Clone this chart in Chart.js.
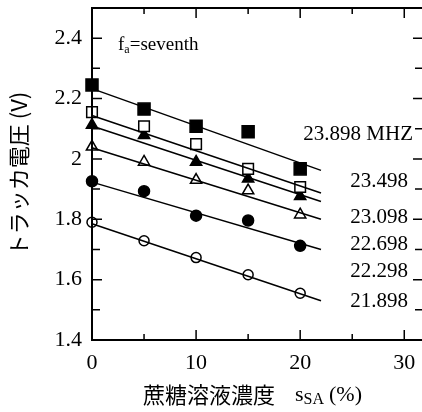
<!DOCTYPE html>
<html lang="ja">
<head>
<meta charset="UTF-8">
<title>トラッカ電圧</title>
<script src="https://cdn.jsdelivr.net/npm/chart.js"></script>
<style>
  html, body { margin: 0; padding: 0; overflow: hidden; background: #fff; }
</style>
</head>
<body>
<canvas id="myChart" width="424" height="412"></canvas>
<script>
// sucrose concentration (%)
const concentration = [0, 5, 10, 15, 20];

// measured tracker voltage (V) per frequency
const v23898 = [2.245, 2.165, 2.108, 2.09, 1.967];
const v23498 = [2.155, 2.108, 2.049, 1.967, 1.907];
const v23098 = [2.112, 2.078, 1.99, 1.934, 1.876];
const v22698 = [2.04, 1.99, 1.93, 1.895, 1.815];
const v22298 = [1.926, 1.893, 1.812, 1.796, 1.712];
const v21898 = [1.79, 1.729, 1.673, 1.616, 1.555];

// fitted lines, read at x = 0 and x = 22
const fitX = [0, 22];
const fit23898 = [2.233, 1.962];
const fit23498 = [2.144, 1.887];
const fit23098 = [2.109, 1.859];
const fit22698 = [2.037, 1.80];
const fit22298 = [1.923, 1.70];
const fit21898 = [1.785, 1.53];

const freqLabels = ['23.898 MHZ', '23.498', '23.098', '22.698', '22.298', '21.898'];
const freqLabelY = [2.08, 1.926, 1.805, 1.716, 1.628, 1.528];

const xTicks = [0, 10, 20, 30];
const xMinorTicks = [0, 5, 10, 15, 20, 25, 30];
const yTicks = [1.4, 1.6, 1.8, 2.0, 2.2, 2.4];
const yMinorTicks = [1.4, 1.5, 1.6, 1.7, 1.8, 1.9, 2.0, 2.1, 2.2, 2.3, 2.4];

const serif = "'Liberation Serif', 'DejaVu Serif', serif";
const cjk = "'Noto Sans CJK JP', sans-serif";

function pts(ys, xs) {
  return ys.map((v, i) => ({ x: (xs || concentration)[i], y: v }));
}

function marks(label, ys, style, filled, radius) {
  return {
    label: label,
    data: pts(ys),
    showLine: false,
    pointStyle: style,
    pointRadius: radius,
    pointBackgroundColor: filled ? '#000' : '#fff',
    pointBorderColor: '#000',
    pointBorderWidth: 1.5,
    clip: false
  };
}

function fit(ys) {
  return {
    data: pts(ys, fitX),
    showLine: true,
    borderColor: '#000',
    borderWidth: 1.5,
    pointRadius: 0,
    fill: false,
    clip: false
  };
}

// frame, inward ticks and text labels
const framePlugin = {
  id: 'frame',
  afterDraw(chart) {
    const { ctx, chartArea: a, scales: { x, y } } = chart;
    ctx.save();
    ctx.strokeStyle = '#000';
    ctx.lineWidth = 2;
    ctx.strokeRect(a.left, a.top, a.right - a.left, a.bottom - a.top);

    ctx.lineWidth = 1.5;
    ctx.beginPath();
    xMinorTicks.forEach(v => {
      const px = x.getPixelForValue(v);
      const len = xTicks.includes(v) ? 10 : 6;
      ctx.moveTo(px, a.bottom); ctx.lineTo(px, a.bottom - len);
      ctx.moveTo(px, a.top); ctx.lineTo(px, a.top + len);
    });
    yMinorTicks.forEach(v => {
      const py = y.getPixelForValue(v);
      const len = yTicks.some(t => Math.abs(t - v) < 1e-6) ? 10 : 8;
      ctx.moveTo(a.left, py); ctx.lineTo(a.left + len, py);
      ctx.moveTo(a.right, py); ctx.lineTo(a.right - len, py);
    });
    ctx.stroke();

    ctx.fillStyle = '#000';
    ctx.textBaseline = 'middle';

    // f_a=seventh
    let tx = x.getPixelForValue(2.5);
    const ty = y.getPixelForValue(2.377);
    ctx.textAlign = 'left';
    ctx.font = '19px ' + serif;
    ctx.fillText('f', tx, ty);
    tx += ctx.measureText('f').width;
    ctx.font = '12px ' + serif;
    ctx.fillText('a', tx, ty + 5);
    tx += ctx.measureText('a').width;
    ctx.font = '19px ' + serif;
    ctx.fillText('=seventh', tx, ty);

    // frequency labels
    ctx.textAlign = 'right';
    ctx.font = '21px ' + serif;
    freqLabels.forEach((t, i) => {
      const rx = i === 0 ? 413 : 408;
      ctx.fillText(t, rx, y.getPixelForValue(freqLabelY[i]));
    });

    // x axis title
    ctx.textAlign = 'left';
    const by = 395;
    let bx = 143;
    ctx.font = '22px ' + cjk;
    ctx.fillText('蔗糖溶液濃度', bx, by);
    bx += ctx.measureText('蔗糖溶液濃度').width + 20;
    ctx.font = '22px ' + serif;
    ctx.fillText('s', bx, by);
    bx += ctx.measureText('s').width;
    ctx.font = '16px ' + serif;
    ctx.fillText('SA', bx, by + 5);
    bx += ctx.measureText('SA').width + 5;
    ctx.font = '22px ' + serif;
    ctx.fillText('(%)', bx, by);
    ctx.restore();
  }
};

const ctx = document.getElementById('myChart').getContext('2d');
const myChart = new Chart(ctx, {
  type: 'scatter',
  data: {
    datasets: [
      fit(fit23898), fit(fit23498), fit(fit23098),
      fit(fit22698), fit(fit22298), fit(fit21898),
      marks('23.898', v23898, 'rect', true, 8.5),
      marks('23.498', v23498, 'rect', false, 7.5),
      marks('23.098', v23098, 'triangle', true, 6.5),
      marks('22.698', v22698, 'triangle', false, 6.5),
      marks('22.298', v22298, 'circle', true, 5.5),
      marks('21.898', v21898, 'circle', false, 5)
    ]
  },
  options: {
    responsive: false,
    animation: false,
    layout: { autoPadding: false, padding: { top: 8, right: 1, left: 0, bottom: 0 } },
    plugins: { legend: { display: false }, tooltip: { enabled: false } },
    scales: {
      x: {
        type: 'linear',
        min: 0,
        max: 31.8,
        grid: { display: false, drawTicks: true, tickLength: 10 },
        border: { display: false },
        afterBuildTicks: s => { s.ticks = xTicks.map(v => ({ value: v })); },
        afterFit: s => { s.height = 72; s.paddingLeft = 0; s.paddingRight = 0; },
        ticks: { color: '#000', padding: 0, font: { family: serif, size: 22 }, maxRotation: 0 }
      },
      y: {
        type: 'linear',
        min: 1.4,
        max: 2.5,
        grid: { display: false, drawTicks: false },
        border: { display: false },
        afterBuildTicks: s => { s.ticks = yTicks.map(v => ({ value: v })); },
        afterFit: s => { s.width = 92; s.paddingTop = 0; s.paddingBottom = 0; },
        ticks: {
          color: '#000',
          padding: 10,
          font: { family: serif, size: 22 },
          callback: v => String(+v.toFixed(1))
        },
        title: {
          display: true,
          text: 'トラッカ電圧 (V)',
          color: '#000',
          font: { family: cjk, size: 22 },
          padding: { top: 5, bottom: 0 }
        }
      }
    }
  },
  plugins: [framePlugin]
});
</script>
</body>
</html>
